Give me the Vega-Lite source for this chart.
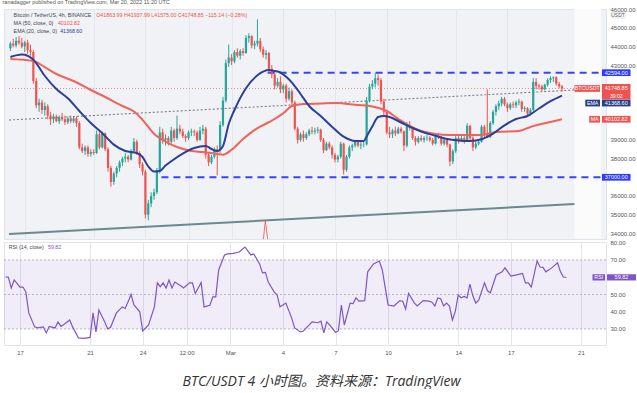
{
"$schema": "https://vega.github.io/schema/vega-lite/v6.json",
"background": "#ffffff",
"padding": {"left": 2, "top": 0, "right": 0, "bottom": 0},
"title": {"text": "ranadagger published on TradingView.com, Mar 20, 2022 11:20 UTC", "anchor": "start", "fontSize": 5.5, "fontWeight": "normal", "color": "#555555", "font": "Liberation Sans", "offset": 0},
"config": {"font": "Liberation Sans", "view": {"stroke": "#e0e3eb", "strokeWidth": 1}, "axis": {"labelFont": "Liberation Sans", "labelOverlap": false}, "axisY": {"labelOverlap": false}},
"spacing": -3,
"datasets": {
"candles": [
{"t":"2022-02-16T04:00Z","o":43900,"h":44250,"l":43750,"c":44150},
{"t":"2022-02-16T08:00Z","o":44150,"h":44400,"l":43950,"c":44050},
{"t":"2022-02-16T12:00Z","o":44050,"h":44500,"l":43950,"c":44300},
{"t":"2022-02-16T16:00Z","o":44300,"h":44550,"l":44100,"c":44200},
{"t":"2022-02-16T20:00Z","o":44200,"h":44450,"l":43900,"c":44000},
{"t":"2022-02-17T00:00Z","o":44000,"h":44300,"l":43700,"c":44200},
{"t":"2022-02-17T04:00Z","o":44200,"h":44350,"l":43600,"c":43800},
{"t":"2022-02-17T08:00Z","o":43800,"h":44100,"l":43500,"c":43700},
{"t":"2022-02-17T12:00Z","o":43700,"h":43800,"l":42000,"c":42150},
{"t":"2022-02-17T16:00Z","o":42150,"h":42300,"l":40700,"c":40850},
{"t":"2022-02-17T20:00Z","o":40850,"h":41200,"l":40500,"c":41000},
{"t":"2022-02-18T00:00Z","o":41000,"h":41150,"l":40400,"c":40600},
{"t":"2022-02-18T04:00Z","o":40600,"h":41000,"l":40300,"c":40800},
{"t":"2022-02-18T08:00Z","o":40800,"h":40900,"l":40100,"c":40300},
{"t":"2022-02-18T12:00Z","o":40300,"h":40500,"l":39800,"c":40100},
{"t":"2022-02-18T16:00Z","o":40100,"h":40400,"l":39900,"c":40250},
{"t":"2022-02-18T20:00Z","o":40250,"h":40350,"l":39950,"c":40000},
{"t":"2022-02-19T00:00Z","o":40000,"h":40300,"l":39850,"c":40200},
{"t":"2022-02-19T04:00Z","o":40200,"h":40450,"l":40000,"c":40100},
{"t":"2022-02-19T08:00Z","o":40100,"h":40300,"l":39800,"c":39950},
{"t":"2022-02-19T12:00Z","o":39950,"h":40250,"l":39850,"c":40150},
{"t":"2022-02-19T16:00Z","o":40150,"h":40300,"l":39900,"c":40000},
{"t":"2022-02-19T20:00Z","o":40000,"h":40250,"l":39900,"c":40150},
{"t":"2022-02-20T00:00Z","o":40150,"h":40250,"l":39700,"c":39900},
{"t":"2022-02-20T04:00Z","o":39900,"h":40000,"l":38500,"c":38600},
{"t":"2022-02-20T08:00Z","o":38600,"h":38800,"l":38300,"c":38400},
{"t":"2022-02-20T12:00Z","o":38400,"h":38700,"l":38200,"c":38600},
{"t":"2022-02-20T16:00Z","o":38600,"h":38700,"l":38100,"c":38250},
{"t":"2022-02-20T20:00Z","o":38250,"h":38500,"l":38100,"c":38350},
{"t":"2022-02-21T00:00Z","o":38350,"h":38500,"l":38200,"c":38300},
{"t":"2022-02-21T04:00Z","o":38300,"h":39500,"l":38250,"c":39300},
{"t":"2022-02-21T08:00Z","o":39300,"h":39400,"l":38500,"c":38600},
{"t":"2022-02-21T12:00Z","o":38600,"h":39450,"l":38550,"c":39350},
{"t":"2022-02-21T16:00Z","o":39350,"h":39400,"l":38400,"c":38500},
{"t":"2022-02-21T20:00Z","o":38500,"h":38600,"l":37300,"c":37500},
{"t":"2022-02-22T00:00Z","o":37500,"h":37600,"l":36500,"c":36750},
{"t":"2022-02-22T04:00Z","o":36750,"h":37300,"l":36600,"c":37200},
{"t":"2022-02-22T08:00Z","o":37200,"h":37600,"l":37000,"c":37500},
{"t":"2022-02-22T12:00Z","o":37500,"h":37900,"l":37300,"c":37800},
{"t":"2022-02-22T16:00Z","o":37800,"h":38100,"l":37600,"c":38000},
{"t":"2022-02-22T20:00Z","o":38000,"h":38300,"l":37800,"c":38100},
{"t":"2022-02-23T00:00Z","o":38100,"h":38200,"l":37800,"c":37950},
{"t":"2022-02-23T04:00Z","o":37950,"h":38500,"l":37900,"c":38400},
{"t":"2022-02-23T08:00Z","o":38400,"h":39100,"l":38300,"c":38900},
{"t":"2022-02-23T12:00Z","o":38900,"h":39000,"l":38200,"c":38300},
{"t":"2022-02-23T16:00Z","o":38300,"h":38400,"l":37500,"c":37700},
{"t":"2022-02-23T20:00Z","o":37700,"h":37800,"l":37100,"c":37300},
{"t":"2022-02-24T00:00Z","o":37300,"h":37400,"l":34800,"c":35000},
{"t":"2022-02-24T04:00Z","o":35000,"h":35800,"l":34700,"c":35600},
{"t":"2022-02-24T08:00Z","o":35600,"h":36200,"l":35400,"c":36000},
{"t":"2022-02-24T12:00Z","o":36000,"h":36400,"l":35800,"c":36200},
{"t":"2022-02-24T16:00Z","o":36200,"h":37500,"l":36100,"c":37300},
{"t":"2022-02-24T20:00Z","o":37300,"h":39700,"l":37200,"c":39400},
{"t":"2022-02-25T00:00Z","o":39400,"h":39600,"l":38800,"c":39000},
{"t":"2022-02-25T04:00Z","o":39000,"h":39300,"l":38700,"c":39100},
{"t":"2022-02-25T08:00Z","o":39100,"h":39200,"l":38700,"c":38900},
{"t":"2022-02-25T12:00Z","o":38900,"h":39700,"l":38800,"c":39500},
{"t":"2022-02-25T16:00Z","o":39500,"h":39600,"l":38900,"c":39100},
{"t":"2022-02-25T20:00Z","o":39100,"h":40300,"l":39000,"c":39600},
{"t":"2022-02-26T00:00Z","o":39600,"h":39800,"l":39300,"c":39450},
{"t":"2022-02-26T04:00Z","o":39450,"h":39600,"l":39100,"c":39200},
{"t":"2022-02-26T08:00Z","o":39200,"h":39300,"l":38900,"c":39100},
{"t":"2022-02-26T12:00Z","o":39100,"h":39500,"l":39000,"c":39400},
{"t":"2022-02-26T16:00Z","o":39400,"h":39600,"l":39200,"c":39450},
{"t":"2022-02-26T20:00Z","o":39450,"h":39550,"l":39200,"c":39400},
{"t":"2022-02-27T00:00Z","o":39400,"h":39500,"l":38900,"c":39000},
{"t":"2022-02-27T04:00Z","o":39000,"h":39700,"l":38950,"c":39500},
{"t":"2022-02-27T08:00Z","o":39500,"h":39800,"l":39300,"c":39600},
{"t":"2022-02-27T12:00Z","o":39600,"h":39700,"l":38000,"c":38200},
{"t":"2022-02-27T16:00Z","o":38200,"h":38300,"l":37600,"c":37800},
{"t":"2022-02-27T20:00Z","o":37800,"h":38200,"l":37700,"c":38100},
{"t":"2022-02-28T00:00Z","o":38100,"h":38600,"l":38000,"c":38500},
{"t":"2022-02-28T04:00Z","o":38500,"h":38700,"l":37100,"c":38450},
{"t":"2022-02-28T08:00Z","o":38450,"h":40000,"l":38300,"c":39800},
{"t":"2022-02-28T12:00Z","o":39800,"h":41300,"l":39700,"c":41100},
{"t":"2022-02-28T16:00Z","o":41100,"h":43300,"l":41000,"c":43100},
{"t":"2022-02-28T20:00Z","o":43100,"h":44100,"l":42900,"c":43400},
{"t":"2022-03-01T00:00Z","o":43400,"h":43600,"l":43000,"c":43200},
{"t":"2022-03-01T04:00Z","o":43200,"h":43800,"l":43100,"c":43700},
{"t":"2022-03-01T08:00Z","o":43700,"h":43900,"l":43400,"c":43500},
{"t":"2022-03-01T12:00Z","o":43500,"h":43850,"l":43300,"c":43750},
{"t":"2022-03-01T16:00Z","o":43750,"h":43900,"l":43500,"c":43650},
{"t":"2022-03-01T20:00Z","o":43650,"h":44600,"l":43600,"c":44450},
{"t":"2022-03-02T00:00Z","o":44450,"h":44700,"l":44200,"c":44550},
{"t":"2022-03-02T04:00Z","o":44550,"h":44600,"l":43900,"c":44050},
{"t":"2022-03-02T08:00Z","o":44050,"h":44300,"l":43850,"c":44150},
{"t":"2022-03-02T12:00Z","o":44150,"h":45450,"l":44000,"c":44300},
{"t":"2022-03-02T16:00Z","o":44300,"h":44450,"l":43700,"c":43850},
{"t":"2022-03-02T20:00Z","o":43850,"h":44000,"l":43400,"c":43550},
{"t":"2022-03-03T00:00Z","o":43550,"h":43800,"l":43300,"c":43650},
{"t":"2022-03-03T04:00Z","o":43650,"h":43700,"l":42600,"c":42800},
{"t":"2022-03-03T08:00Z","o":42800,"h":43000,"l":42300,"c":42500},
{"t":"2022-03-03T12:00Z","o":42500,"h":42600,"l":41700,"c":41900},
{"t":"2022-03-03T16:00Z","o":41900,"h":42300,"l":41800,"c":42100},
{"t":"2022-03-03T20:00Z","o":42100,"h":42400,"l":41500,"c":41700},
{"t":"2022-03-04T00:00Z","o":41700,"h":42000,"l":41500,"c":41900},
{"t":"2022-03-04T04:00Z","o":41900,"h":42000,"l":41000,"c":41200},
{"t":"2022-03-04T08:00Z","o":41200,"h":41800,"l":41100,"c":41600},
{"t":"2022-03-04T12:00Z","o":41600,"h":41700,"l":40800,"c":41000},
{"t":"2022-03-04T16:00Z","o":41000,"h":41100,"l":39500,"c":39600},
{"t":"2022-03-04T20:00Z","o":39600,"h":39700,"l":38800,"c":39000},
{"t":"2022-03-05T00:00Z","o":39000,"h":39400,"l":38900,"c":39300},
{"t":"2022-03-05T04:00Z","o":39300,"h":39500,"l":38900,"c":39100},
{"t":"2022-03-05T08:00Z","o":39100,"h":39400,"l":39000,"c":39300},
{"t":"2022-03-05T12:00Z","o":39300,"h":39600,"l":39200,"c":39500},
{"t":"2022-03-05T16:00Z","o":39500,"h":39700,"l":39300,"c":39450},
{"t":"2022-03-05T20:00Z","o":39450,"h":39650,"l":39300,"c":39500},
{"t":"2022-03-06T00:00Z","o":39500,"h":39700,"l":39350,"c":39550},
{"t":"2022-03-06T04:00Z","o":39550,"h":39600,"l":38900,"c":39000},
{"t":"2022-03-06T08:00Z","o":39000,"h":39100,"l":38300,"c":38450},
{"t":"2022-03-06T12:00Z","o":38450,"h":38900,"l":38400,"c":38800},
{"t":"2022-03-06T16:00Z","o":38800,"h":38900,"l":38500,"c":38600},
{"t":"2022-03-06T20:00Z","o":38600,"h":38700,"l":38000,"c":38200},
{"t":"2022-03-07T00:00Z","o":38200,"h":38300,"l":37800,"c":37950},
{"t":"2022-03-07T04:00Z","o":37950,"h":38200,"l":37800,"c":38100},
{"t":"2022-03-07T08:00Z","o":38100,"h":38900,"l":38000,"c":38800},
{"t":"2022-03-07T12:00Z","o":38800,"h":38850,"l":37150,"c":37400},
{"t":"2022-03-07T16:00Z","o":37400,"h":38200,"l":37300,"c":38100},
{"t":"2022-03-07T20:00Z","o":38100,"h":38700,"l":38000,"c":38600},
{"t":"2022-03-08T00:00Z","o":38600,"h":38800,"l":38400,"c":38700},
{"t":"2022-03-08T04:00Z","o":38700,"h":39000,"l":38600,"c":38900},
{"t":"2022-03-08T08:00Z","o":38900,"h":39000,"l":38600,"c":38700},
{"t":"2022-03-08T12:00Z","o":38700,"h":38900,"l":38500,"c":38750},
{"t":"2022-03-08T16:00Z","o":38750,"h":38900,"l":38600,"c":38760},
{"t":"2022-03-08T20:00Z","o":38760,"h":41300,"l":38700,"c":41100},
{"t":"2022-03-09T00:00Z","o":41100,"h":42000,"l":41000,"c":41850},
{"t":"2022-03-09T04:00Z","o":41850,"h":42200,"l":41700,"c":42000},
{"t":"2022-03-09T08:00Z","o":42000,"h":42594,"l":41800,"c":42300},
{"t":"2022-03-09T12:00Z","o":42300,"h":42500,"l":41900,"c":42200},
{"t":"2022-03-09T16:00Z","o":42200,"h":42300,"l":40900,"c":41050},
{"t":"2022-03-09T20:00Z","o":41050,"h":41200,"l":40300,"c":40500},
{"t":"2022-03-10T00:00Z","o":40500,"h":40600,"l":39300,"c":39400},
{"t":"2022-03-10T04:00Z","o":39400,"h":39700,"l":39100,"c":39300},
{"t":"2022-03-10T08:00Z","o":39300,"h":39600,"l":39100,"c":39500},
{"t":"2022-03-10T12:00Z","o":39500,"h":39700,"l":39200,"c":39350},
{"t":"2022-03-10T16:00Z","o":39350,"h":39700,"l":39300,"c":39600},
{"t":"2022-03-10T20:00Z","o":39600,"h":39700,"l":39350,"c":39450},
{"t":"2022-03-11T00:00Z","o":39450,"h":39500,"l":38400,"c":38700},
{"t":"2022-03-11T04:00Z","o":38700,"h":39950,"l":38600,"c":39800},
{"t":"2022-03-11T08:00Z","o":39800,"h":40000,"l":39500,"c":39650},
{"t":"2022-03-11T12:00Z","o":39650,"h":39700,"l":39000,"c":39100},
{"t":"2022-03-11T16:00Z","o":39100,"h":39200,"l":38700,"c":38900},
{"t":"2022-03-11T20:00Z","o":38900,"h":39200,"l":38800,"c":39100},
{"t":"2022-03-12T00:00Z","o":39100,"h":39250,"l":38900,"c":39000},
{"t":"2022-03-12T04:00Z","o":39000,"h":39200,"l":38850,"c":39100},
{"t":"2022-03-12T08:00Z","o":39100,"h":39250,"l":38950,"c":39120},
{"t":"2022-03-12T12:00Z","o":39120,"h":39200,"l":38900,"c":39000},
{"t":"2022-03-12T16:00Z","o":39000,"h":39100,"l":38700,"c":38800},
{"t":"2022-03-12T20:00Z","o":38800,"h":39300,"l":38750,"c":39200},
{"t":"2022-03-13T00:00Z","o":39200,"h":39350,"l":39050,"c":39150},
{"t":"2022-03-13T04:00Z","o":39150,"h":39200,"l":38700,"c":38800},
{"t":"2022-03-13T08:00Z","o":38800,"h":39100,"l":38700,"c":39000},
{"t":"2022-03-13T12:00Z","o":39000,"h":39050,"l":38600,"c":38750},
{"t":"2022-03-13T16:00Z","o":38750,"h":38800,"l":37600,"c":37850},
{"t":"2022-03-13T20:00Z","o":37850,"h":38500,"l":37700,"c":38400},
{"t":"2022-03-14T00:00Z","o":38400,"h":39200,"l":38300,"c":39100},
{"t":"2022-03-14T04:00Z","o":39100,"h":39200,"l":38800,"c":38950},
{"t":"2022-03-14T08:00Z","o":38950,"h":39200,"l":38900,"c":39100},
{"t":"2022-03-14T12:00Z","o":39100,"h":39200,"l":38800,"c":38950},
{"t":"2022-03-14T16:00Z","o":38950,"h":39900,"l":38900,"c":39750},
{"t":"2022-03-14T20:00Z","o":39750,"h":39800,"l":39000,"c":39100},
{"t":"2022-03-15T00:00Z","o":39100,"h":39200,"l":38400,"c":38600},
{"t":"2022-03-15T04:00Z","o":38600,"h":39000,"l":38500,"c":38800},
{"t":"2022-03-15T08:00Z","o":38800,"h":39000,"l":38700,"c":38900},
{"t":"2022-03-15T12:00Z","o":38900,"h":39800,"l":38850,"c":39700},
{"t":"2022-03-15T16:00Z","o":39700,"h":39800,"l":39100,"c":39300},
{"t":"2022-03-15T20:00Z","o":39300,"h":41700,"l":39100,"c":39150},
{"t":"2022-03-16T00:00Z","o":39150,"h":40000,"l":39100,"c":39900},
{"t":"2022-03-16T04:00Z","o":39900,"h":40600,"l":39800,"c":40500},
{"t":"2022-03-16T08:00Z","o":40500,"h":40900,"l":40300,"c":40800},
{"t":"2022-03-16T12:00Z","o":40800,"h":41100,"l":40600,"c":40950},
{"t":"2022-03-16T16:00Z","o":40950,"h":41300,"l":40800,"c":41200},
{"t":"2022-03-16T20:00Z","o":41200,"h":41300,"l":40800,"c":40900},
{"t":"2022-03-17T00:00Z","o":40900,"h":41000,"l":40500,"c":40700},
{"t":"2022-03-17T04:00Z","o":40700,"h":41000,"l":40600,"c":40900},
{"t":"2022-03-17T08:00Z","o":40900,"h":41050,"l":40700,"c":40850},
{"t":"2022-03-17T12:00Z","o":40850,"h":41100,"l":40700,"c":41000},
{"t":"2022-03-17T16:00Z","o":41000,"h":41200,"l":40850,"c":41050},
{"t":"2022-03-17T20:00Z","o":41050,"h":41100,"l":40500,"c":40650},
{"t":"2022-03-18T00:00Z","o":40650,"h":40800,"l":40500,"c":40700},
{"t":"2022-03-18T04:00Z","o":40700,"h":40750,"l":40300,"c":40400},
{"t":"2022-03-18T08:00Z","o":40400,"h":40700,"l":40300,"c":40600},
{"t":"2022-03-18T12:00Z","o":40600,"h":42300,"l":40550,"c":42100},
{"t":"2022-03-18T16:00Z","o":42100,"h":42300,"l":41700,"c":41900},
{"t":"2022-03-18T20:00Z","o":41900,"h":42000,"l":41700,"c":41850},
{"t":"2022-03-19T00:00Z","o":41850,"h":41950,"l":41600,"c":41700},
{"t":"2022-03-19T04:00Z","o":41700,"h":42000,"l":41650,"c":41950},
{"t":"2022-03-19T08:00Z","o":41950,"h":42300,"l":41850,"c":42200},
{"t":"2022-03-19T12:00Z","o":42200,"h":42400,"l":42050,"c":42300},
{"t":"2022-03-19T16:00Z","o":42300,"h":42400,"l":42100,"c":42350},
{"t":"2022-03-19T20:00Z","o":42350,"h":42400,"l":41900,"c":42000},
{"t":"2022-03-20T00:00Z","o":42000,"h":42100,"l":41750,"c":41864},
{"t":"2022-03-20T04:00Z","o":41864,"h":41938,"l":41575,"c":41748.85}
],
"ema": [
{"t":"2022-02-16T04:00Z","v":43433},{"t":"2022-02-16T20:00Z","v":43566},{"t":"2022-02-17T12:00Z","v":43290},{"t":"2022-02-18T04:00Z","v":42417},{"t":"2022-02-18T20:00Z","v":41722},{"t":"2022-02-19T12:00Z","v":41224},{"t":"2022-02-20T04:00Z","v":40545},{"t":"2022-02-20T20:00Z","v":39903},{"t":"2022-02-21T12:00Z","v":39358},{"t":"2022-02-22T04:00Z","v":38748},{"t":"2022-02-22T20:00Z","v":38406},{"t":"2022-02-23T12:00Z","v":38299},{"t":"2022-02-23T20:00Z","v":38085},{"t":"2022-02-24T04:00Z","v":37577},{"t":"2022-02-24T12:00Z","v":37310},{"t":"2022-02-24T20:00Z","v":37336},{"t":"2022-02-25T04:00Z","v":37625},{"t":"2022-02-25T12:00Z","v":37860},{"t":"2022-02-26T04:00Z","v":38267},{"t":"2022-02-26T20:00Z","v":38567},{"t":"2022-02-27T12:00Z","v":38673},{"t":"2022-02-27T20:00Z","v":38513},{"t":"2022-02-28T04:00Z","v":38406},{"t":"2022-02-28T12:00Z","v":38673},{"t":"2022-02-28T20:00Z","v":39850},{"t":"2022-03-01T04:00Z","v":40599},{"t":"2022-03-01T20:00Z","v":41759},{"t":"2022-03-02T12:00Z","v":42454},{"t":"2022-03-03T04:00Z","v":42738},{"t":"2022-03-03T12:00Z","v":42684},{"t":"2022-03-03T20:00Z","v":42604},{"t":"2022-03-04T04:00Z","v":42374},{"t":"2022-03-04T12:00Z","v":42064},{"t":"2022-03-04T20:00Z","v":41668},{"t":"2022-03-05T04:00Z","v":41230},{"t":"2022-03-05T12:00Z","v":40813},{"t":"2022-03-06T04:00Z","v":40278},{"t":"2022-03-06T20:00Z","v":39695},{"t":"2022-03-07T12:00Z","v":39171},{"t":"2022-03-08T04:00Z","v":38941},{"t":"2022-03-08T16:00Z","v":38941},{"t":"2022-03-08T20:00Z","v":39187},{"t":"2022-03-09T04:00Z","v":39727},{"t":"2022-03-09T12:00Z","v":40224},{"t":"2022-03-09T20:00Z","v":40278},{"t":"2022-03-10T04:00Z","v":40224},{"t":"2022-03-10T20:00Z","v":39930},{"t":"2022-03-11T12:00Z","v":39636},{"t":"2022-03-12T04:00Z","v":39395},{"t":"2022-03-12T20:00Z","v":39224},{"t":"2022-03-13T12:00Z","v":39048},{"t":"2022-03-14T04:00Z","v":38968},{"t":"2022-03-14T20:00Z","v":38941},{"t":"2022-03-15T12:00Z","v":39032},{"t":"2022-03-16T04:00Z","v":39331},{"t":"2022-03-16T20:00Z","v":39781},{"t":"2022-03-17T12:00Z","v":40117},{"t":"2022-03-18T04:00Z","v":40278},{"t":"2022-03-18T20:00Z","v":40679},{"t":"2022-03-19T12:00Z","v":41069},{"t":"2022-03-20T04:00Z","v":41368.6}
],
"ma": [
{"t":"2022-02-16T04:00Z","v":43326},{"t":"2022-02-17T12:00Z","v":43219},{"t":"2022-02-18T04:00Z","v":42887},{"t":"2022-02-18T20:00Z","v":42524},{"t":"2022-02-19T20:00Z","v":42149},{"t":"2022-02-20T20:00Z","v":41668},{"t":"2022-02-21T16:00Z","v":41294},{"t":"2022-02-22T16:00Z","v":40813},{"t":"2022-02-23T08:00Z","v":40519},{"t":"2022-02-23T20:00Z","v":40074},{"t":"2022-02-24T12:00Z","v":39331},{"t":"2022-02-25T04:00Z","v":38909},{"t":"2022-02-25T20:00Z","v":38620},{"t":"2022-02-26T16:00Z","v":38406},{"t":"2022-02-27T08:00Z","v":38352},{"t":"2022-02-28T04:00Z","v":38245},{"t":"2022-02-28T12:00Z","v":38208},{"t":"2022-03-01T00:00Z","v":38475},{"t":"2022-03-01T16:00Z","v":39048},{"t":"2022-03-02T12:00Z","v":39630},{"t":"2022-03-03T04:00Z","v":39946},{"t":"2022-03-04T00:00Z","v":40428},{"t":"2022-03-04T12:00Z","v":40813},{"t":"2022-03-05T04:00Z","v":40919},{"t":"2022-03-06T04:00Z","v":40946},{"t":"2022-03-07T00:00Z","v":40973},{"t":"2022-03-08T08:00Z","v":40866},{"t":"2022-03-09T00:00Z","v":40813},{"t":"2022-03-10T00:00Z","v":40545},{"t":"2022-03-10T16:00Z","v":40128},{"t":"2022-03-11T08:00Z","v":39743},{"t":"2022-03-12T00:00Z","v":39476},{"t":"2022-03-12T20:00Z","v":39315},{"t":"2022-03-13T16:00Z","v":39262},{"t":"2022-03-15T12:00Z","v":39262},{"t":"2022-03-16T08:00Z","v":39422},{"t":"2022-03-17T16:00Z","v":39475},{"t":"2022-03-18T08:00Z","v":39689},{"t":"2022-03-19T12:00Z","v":39957},{"t":"2022-03-20T04:00Z","v":40102.82}
],
"rsi": [
{"t":"2022-02-16T04:00Z","v":60.1},{"t":"2022-02-16T08:00Z","v":60},{"t":"2022-02-16T12:00Z","v":53.7},{"t":"2022-02-16T16:00Z","v":58.4},{"t":"2022-02-17T00:00Z","v":54.3},{"t":"2022-02-17T04:00Z","v":54.3},{"t":"2022-02-17T08:00Z","v":51.5},{"t":"2022-02-17T12:00Z","v":39.3},{"t":"2022-02-17T20:00Z","v":31.2},{"t":"2022-02-18T00:00Z","v":30.6},{"t":"2022-02-18T08:00Z","v":31.2},{"t":"2022-02-18T12:00Z","v":27.7},{"t":"2022-02-18T16:00Z","v":31.5},{"t":"2022-02-19T00:00Z","v":30.6},{"t":"2022-02-19T04:00Z","v":34.1},{"t":"2022-02-19T08:00Z","v":31.5},{"t":"2022-02-19T12:00Z","v":32.6},{"t":"2022-02-19T20:00Z","v":35.2},{"t":"2022-02-20T00:00Z","v":31.2},{"t":"2022-02-20T04:00Z","v":28},{"t":"2022-02-20T08:00Z","v":24.8},{"t":"2022-02-20T16:00Z","v":24.5},{"t":"2022-02-21T00:00Z","v":25.1},{"t":"2022-02-21T04:00Z","v":39.3},{"t":"2022-02-21T08:00Z","v":28.3},{"t":"2022-02-21T12:00Z","v":41},{"t":"2022-02-21T20:00Z","v":34.1},{"t":"2022-02-22T00:00Z","v":30},{"t":"2022-02-22T04:00Z","v":31},{"t":"2022-02-22T12:00Z","v":39.3},{"t":"2022-02-22T20:00Z","v":42.8},{"t":"2022-02-23T00:00Z","v":41.9},{"t":"2022-02-23T04:00Z","v":45.7},{"t":"2022-02-23T08:00Z","v":50},{"t":"2022-02-23T12:00Z","v":43.9},{"t":"2022-02-23T20:00Z","v":39.9},{"t":"2022-02-24T00:00Z","v":28.8},{"t":"2022-02-24T08:00Z","v":32.3},{"t":"2022-02-24T16:00Z","v":42.8},{"t":"2022-02-24T20:00Z","v":56.7},{"t":"2022-02-25T00:00Z","v":54.5},{"t":"2022-02-25T04:00Z","v":56.7},{"t":"2022-02-25T08:00Z","v":53.7},{"t":"2022-02-25T12:00Z","v":58.4},{"t":"2022-02-25T16:00Z","v":53.7},{"t":"2022-02-25T20:00Z","v":57.2},{"t":"2022-02-26T04:00Z","v":55},{"t":"2022-02-26T08:00Z","v":53.7},{"t":"2022-02-26T16:00Z","v":56.7},{"t":"2022-02-26T20:00Z","v":56.7},{"t":"2022-02-27T00:00Z","v":50.6},{"t":"2022-02-27T08:00Z","v":56.9},{"t":"2022-02-27T12:00Z","v":42.8},{"t":"2022-02-27T20:00Z","v":43.7},{"t":"2022-02-28T00:00Z","v":48.6},{"t":"2022-02-28T04:00Z","v":48.6},{"t":"2022-02-28T08:00Z","v":64.2},{"t":"2022-02-28T16:00Z","v":72.9},{"t":"2022-02-28T20:00Z","v":73.5},{"t":"2022-03-01T04:00Z","v":73.8},{"t":"2022-03-01T12:00Z","v":74.6},{"t":"2022-03-01T20:00Z","v":77.5},{"t":"2022-03-02T04:00Z","v":72.9},{"t":"2022-03-02T08:00Z","v":73.5},{"t":"2022-03-02T16:00Z","v":67.7},{"t":"2022-03-02T20:00Z","v":62.5},{"t":"2022-03-03T00:00Z","v":62.8},{"t":"2022-03-03T04:00Z","v":57},{"t":"2022-03-03T12:00Z","v":51.5},{"t":"2022-03-03T16:00Z","v":49.7},{"t":"2022-03-03T20:00Z","v":42.8},{"t":"2022-03-04T04:00Z","v":45},{"t":"2022-03-04T12:00Z","v":36.3},{"t":"2022-03-04T16:00Z","v":30.6},{"t":"2022-03-05T00:00Z","v":28.3},{"t":"2022-03-05T04:00Z","v":28.8},{"t":"2022-03-05T08:00Z","v":30.6},{"t":"2022-03-05T16:00Z","v":34.1},{"t":"2022-03-06T00:00Z","v":33.6},{"t":"2022-03-06T04:00Z","v":34.5},{"t":"2022-03-06T08:00Z","v":27.7},{"t":"2022-03-06T12:00Z","v":34.1},{"t":"2022-03-06T16:00Z","v":32.3},{"t":"2022-03-07T00:00Z","v":28},{"t":"2022-03-07T04:00Z","v":29},{"t":"2022-03-07T08:00Z","v":43.9},{"t":"2022-03-07T12:00Z","v":32.3},{"t":"2022-03-07T20:00Z","v":45},{"t":"2022-03-08T00:00Z","v":44.7},{"t":"2022-03-08T04:00Z","v":48},{"t":"2022-03-08T08:00Z","v":46.1},{"t":"2022-03-08T16:00Z","v":46.4},{"t":"2022-03-08T20:00Z","v":63.1},{"t":"2022-03-09T04:00Z","v":67.7},{"t":"2022-03-09T12:00Z","v":69.4},{"t":"2022-03-09T16:00Z","v":64.2},{"t":"2022-03-10T00:00Z","v":43.9},{"t":"2022-03-10T08:00Z","v":43.3},{"t":"2022-03-10T16:00Z","v":46.4},{"t":"2022-03-10T20:00Z","v":46.1},{"t":"2022-03-11T00:00Z","v":41.6},{"t":"2022-03-11T04:00Z","v":50.6},{"t":"2022-03-11T12:00Z","v":45},{"t":"2022-03-11T16:00Z","v":43.3},{"t":"2022-03-12T00:00Z","v":46.4},{"t":"2022-03-12T08:00Z","v":46.1},{"t":"2022-03-12T12:00Z","v":45.5},{"t":"2022-03-12T16:00Z","v":43.3},{"t":"2022-03-12T20:00Z","v":48},{"t":"2022-03-13T00:00Z","v":47.5},{"t":"2022-03-13T04:00Z","v":43.3},{"t":"2022-03-13T08:00Z","v":45},{"t":"2022-03-13T12:00Z","v":43.3},{"t":"2022-03-13T16:00Z","v":35.2},{"t":"2022-03-13T20:00Z","v":40.2},{"t":"2022-03-14T00:00Z","v":49.7},{"t":"2022-03-14T04:00Z","v":48},{"t":"2022-03-14T08:00Z","v":48.8},{"t":"2022-03-14T12:00Z","v":48},{"t":"2022-03-14T16:00Z","v":56},{"t":"2022-03-14T20:00Z","v":49.2},{"t":"2022-03-15T00:00Z","v":45},{"t":"2022-03-15T04:00Z","v":46.7},{"t":"2022-03-15T12:00Z","v":56.7},{"t":"2022-03-15T16:00Z","v":52.1},{"t":"2022-03-15T20:00Z","v":51},{"t":"2022-03-16T04:00Z","v":61.3},{"t":"2022-03-16T12:00Z","v":63.1},{"t":"2022-03-16T16:00Z","v":65.4},{"t":"2022-03-17T00:00Z","v":60.7},{"t":"2022-03-17T08:00Z","v":61.3},{"t":"2022-03-17T16:00Z","v":62.2},{"t":"2022-03-17T20:00Z","v":56.7},{"t":"2022-03-18T00:00Z","v":56.7},{"t":"2022-03-18T04:00Z","v":54.3},{"t":"2022-03-18T12:00Z","v":69.4},{"t":"2022-03-18T16:00Z","v":65.9},{"t":"2022-03-18T20:00Z","v":65.7},{"t":"2022-03-19T00:00Z","v":63.1},{"t":"2022-03-19T08:00Z","v":65.4},{"t":"2022-03-19T16:00Z","v":68.3},{"t":"2022-03-19T20:00Z","v":63.1},{"t":"2022-03-20T00:00Z","v":60.1},{"t":"2022-03-20T04:00Z","v":59.82}
],
"trend": [{"t":"2022-02-16T02:05Z","p":40064},{"t":"2022-03-20T21:21Z","p":41668}],
"support": [{"t":"2022-02-16T02:05Z","p":33967},{"t":"2022-03-20T21:21Z","p":35571}],
"arrow": [{"t":"2022-03-02T20:17Z","p":33700},{"t":"2022-03-02T23:00Z","p":34680},{"t":"2022-03-03T02:10Z","p":33700}]
},
"vconcat": [
{
"width": 602, "height": 230,
"data": {"values": [{}]},
"view": {"fill": "#f0f2f5", "stroke": "#e0e3eb"},
"layer": [
{"mark": {"type": "rect", "color": "#fbfbfc"},
 "encoding": {
  "x": {"datum": {"year":2022,"month":3,"date":20,"hours":21,"minutes":21,"utc":true}, "type": "temporal",
        "scale": {"type": "utc", "domain": [{"year":2022,"month":2,"date":16,"hours":2,"minutes":5,"utc":true},{"year":2022,"month":3,"date":22,"hours":10,"minutes":19,"utc":true}], "nice": false},
        "axis": {"values": [{"year":2022,"month":2,"date":17,"utc":true},{"year":2022,"month":2,"date":21,"utc":true},{"year":2022,"month":2,"date":24,"utc":true},{"year":2022,"month":2,"date":26,"hours":12,"utc":true},{"year":2022,"month":3,"date":1,"utc":true},{"year":2022,"month":3,"date":4,"utc":true},{"year":2022,"month":3,"date":7,"utc":true},{"year":2022,"month":3,"date":10,"utc":true},{"year":2022,"month":3,"date":14,"utc":true},{"year":2022,"month":3,"date":17,"utc":true},{"year":2022,"month":3,"date":21,"utc":true}],
                 "tickCount": 100, "labels": false, "ticks": false, "domain": false, "grid": true, "gridColor": "#e3e6ea", "title": null, "minExtent": 0, "maxExtent": 0, "labelPadding": 0}},
  "x2": {"datum": {"year":2022,"month":3,"date":22,"hours":10,"minutes":19,"utc":true}},
  "y": {"datum": 33700, "type": "quantitative",
        "scale": {"domain": [33700, 46000], "nice": false, "zero": false},
        "axis": {"orient": "right", "values": [34000,35000,36000,38000,39000,43000,44000,45000,46000], "tickCount": 100, "format": ".2f", "labelFontSize": 6, "labelColor": "#555555", "ticks": false, "domain": false, "grid": false, "title": null, "labelPadding": 4, "labelOverlap": false}},
  "y2": {"datum": 46000}
 }},
{"data": {"name": "trend"}, "mark": {"type": "line", "color": "#7c7f88", "strokeWidth": 1.1, "strokeDash": [2, 2]},
 "encoding": {"x": {"field": "t", "type": "temporal"}, "y": {"field": "p", "type": "quantitative"}}},
{"data": {"name": "support"}, "mark": {"type": "line", "color": "#6a8a8e", "strokeWidth": 2},
 "encoding": {"x": {"field": "t", "type": "temporal"}, "y": {"field": "p", "type": "quantitative"}}},
{"mark": {"type": "rule", "color": "#3444ff", "strokeWidth": 2, "strokeDash": [7, 5]},
 "encoding": {"x": {"datum": {"year":2022,"month":3,"date":3,"hours":2,"minutes":11,"utc":true}, "type": "temporal"}, "x2": {"datum": {"year":2022,"month":3,"date":22,"hours":10,"minutes":19,"utc":true}}, "y": {"datum": 42594, "type": "quantitative"}}},
{"mark": {"type": "rule", "color": "#3444ff", "strokeWidth": 2, "strokeDash": [7, 5]},
 "encoding": {"x": {"datum": {"year":2022,"month":2,"date":24,"hours":22,"minutes":18,"utc":true}, "type": "temporal"}, "x2": {"datum": {"year":2022,"month":3,"date":22,"hours":10,"minutes":19,"utc":true}}, "y": {"datum": 37000, "type": "quantitative"}}},
{"mark": {"type": "rule", "color": "#ef5350", "strokeWidth": 0.8, "strokeDash": [1, 2], "opacity": 0.8},
 "encoding": {"x": {"datum": {"year":2022,"month":2,"date":16,"hours":2,"minutes":5,"utc":true}, "type": "temporal"}, "x2": {"datum": {"year":2022,"month":3,"date":20,"hours":21,"minutes":21,"utc":true}}, "y": {"datum": 41748.85, "type": "quantitative"}}},
{"data": {"name": "candles"}, "mark": {"type": "rule", "strokeWidth": 1},
 "encoding": {"x": {"field": "t", "type": "temporal"}, "y": {"field": "l", "type": "quantitative", "axis": {"orient": "right", "values": [34000,35000,36000,38000,39000,43000,44000,45000,46000], "tickCount": 100, "format": ".2f", "labelFontSize": 6, "labelColor": "#555555", "ticks": false, "domain": false, "grid": false, "title": null, "labelPadding": 4, "labelOverlap": false}}, "y2": {"field": "h"},
  "color": {"condition": {"test": "datum.c >= datum.o", "value": "#26a69a"}, "value": "#ef5350"}}},
{"data": {"name": "candles"}, "mark": {"type": "bar", "size": 2.2},
 "encoding": {"x": {"field": "t", "type": "temporal"}, "y": {"field": "o", "type": "quantitative"}, "y2": {"field": "c"},
  "color": {"condition": {"test": "datum.c >= datum.o", "value": "#26a69a"}, "value": "#ef5350"}}},
{"data": {"name": "ma"}, "mark": {"type": "line", "color": "#f2625a", "strokeWidth": 2, "interpolate": "monotone"},
 "encoding": {"x": {"field": "t", "type": "temporal"}, "y": {"field": "v", "type": "quantitative"}}},
{"data": {"name": "ema"}, "mark": {"type": "line", "color": "#2b4096", "strokeWidth": 2, "interpolate": "monotone"},
 "encoding": {"x": {"field": "t", "type": "temporal"}, "y": {"field": "v", "type": "quantitative"}}},
{"data": {"name": "arrow"}, "mark": {"type": "line", "color": "#ef5350", "strokeWidth": 0.8},
 "encoding": {"x": {"field": "t", "type": "temporal"}, "y": {"field": "p", "type": "quantitative"}}},
{"mark": {"type": "text", "text": "Bitcoin / TetherUS, 4h, BINANCE", "align": "left", "baseline": "middle", "fontSize": 5.3, "color": "#434651"},
 "encoding": {"x": {"datum": {"year":2022,"month":2,"date":16,"hours":8,"minutes":31,"utc":true}, "type": "temporal"}, "y": {"datum": 45695, "type": "quantitative"}}},
{"mark": {"type": "text", "text": "O41863.99  H41937.99  L41575.00  C41748.85  −115.14 (−0.28%)", "align": "left", "baseline": "middle", "fontSize": 5.3, "color": "#ef5350"},
 "encoding": {"x": {"datum": {"year":2022,"month":2,"date":21,"hours":3,"minutes":32,"utc":true}, "type": "temporal"}, "y": {"datum": 45695, "type": "quantitative"}}},
{"mark": {"type": "text", "text": "MA (50, close, 0)", "align": "left", "baseline": "middle", "fontSize": 5.3, "color": "#434651"},
 "encoding": {"x": {"datum": {"year":2022,"month":2,"date":16,"hours":8,"minutes":31,"utc":true}, "type": "temporal"}, "y": {"datum": 45251, "type": "quantitative"}}},
{"mark": {"type": "text", "text": "40102.82", "align": "left", "baseline": "middle", "fontSize": 5.3, "color": "#ef5350"},
 "encoding": {"x": {"datum": {"year":2022,"month":2,"date":18,"hours":22,"minutes":8,"utc":true}, "type": "temporal"}, "y": {"datum": 45251, "type": "quantitative"}}},
{"mark": {"type": "text", "text": "EMA (20, close, 0)", "align": "left", "baseline": "middle", "fontSize": 5.3, "color": "#434651"},
 "encoding": {"x": {"datum": {"year":2022,"month":2,"date":16,"hours":8,"minutes":31,"utc":true}, "type": "temporal"}, "y": {"datum": 44840, "type": "quantitative"}}},
{"mark": {"type": "text", "text": "41368.60", "align": "left", "baseline": "middle", "fontSize": 5.3, "color": "#2b4096"},
 "encoding": {"x": {"datum": {"year":2022,"month":2,"date":19,"hours":1,"minutes":17,"utc":true}, "type": "temporal"}, "y": {"datum": 44840, "type": "quantitative"}}},
{"mark": {"type": "rect", "fill": "#ffffff", "stroke": "#c8cbd2", "strokeWidth": 0.6, "cornerRadius": 1.5},
 "encoding": {"x": {"datum": {"year":2022,"month":3,"date":23,"hours":0,"minutes":1,"utc":true}, "type": "temporal"}, "x2": {"datum": {"year":2022,"month":3,"date":23,"hours":20,"minutes":8,"utc":true}}, "y": {"datum": 45520, "type": "quantitative"}, "y2": {"datum": 45825}}},
{"mark": {"type": "text", "text": "USDT", "align": "center", "baseline": "middle", "fontSize": 5, "color": "#555555"},
 "encoding": {"x": {"datum": {"year":2022,"month":3,"date":23,"hours":10,"minutes":4,"utc":true}, "type": "temporal"}, "y": {"datum": 45672, "type": "quantitative"}}},
{"mark": {"type": "rect", "color": "#2b3bff"},
 "encoding": {"x": {"datum": {"year":2022,"month":3,"date":22,"hours":11,"minutes":41,"utc":true}, "type": "temporal"}, "x2": {"datum": {"year":2022,"month":3,"date":24,"hours":3,"minutes":24,"utc":true}}, "y": {"datum": 42414, "type": "quantitative"}, "y2": {"datum": 42774}}},
{"mark": {"type": "text", "text": "42594.00", "align": "center", "baseline": "middle", "fontSize": 5.5, "color": "#ffffff"},
 "encoding": {"x": {"datum": {"year":2022,"month":3,"date":23,"hours":7,"minutes":32,"utc":true}, "type": "temporal"}, "y": {"datum": 42594, "type": "quantitative"}}},
{"mark": {"type": "rect", "color": "#2b3bff"},
 "encoding": {"x": {"datum": {"year":2022,"month":3,"date":22,"hours":11,"minutes":41,"utc":true}, "type": "temporal"}, "x2": {"datum": {"year":2022,"month":3,"date":24,"hours":3,"minutes":24,"utc":true}}, "y": {"datum": 36820, "type": "quantitative"}, "y2": {"datum": 37180}}},
{"mark": {"type": "text", "text": "37000.00", "align": "center", "baseline": "middle", "fontSize": 5.5, "color": "#ffffff"},
 "encoding": {"x": {"datum": {"year":2022,"month":3,"date":23,"hours":7,"minutes":32,"utc":true}, "type": "temporal"}, "y": {"datum": 37000, "type": "quantitative"}}},
{"mark": {"type": "rect", "color": "#ef5350"},
 "encoding": {"x": {"datum": {"year":2022,"month":3,"date":22,"hours":11,"minutes":41,"utc":true}, "type": "temporal"}, "x2": {"datum": {"year":2022,"month":3,"date":24,"hours":3,"minutes":24,"utc":true}}, "y": {"datum": 41160, "type": "quantitative"}, "y2": {"datum": 41989}}},
{"mark": {"type": "text", "text": "41748.85", "align": "center", "baseline": "middle", "fontSize": 5.5, "color": "#ffffff"},
 "encoding": {"x": {"datum": {"year":2022,"month":3,"date":23,"hours":7,"minutes":32,"utc":true}, "type": "temporal"}, "y": {"datum": 41748.85, "type": "quantitative"}}},
{"mark": {"type": "text", "text": "39:02", "align": "center", "baseline": "middle", "fontSize": 5, "color": "#ffffff"},
 "encoding": {"x": {"datum": {"year":2022,"month":3,"date":23,"hours":7,"minutes":32,"utc":true}, "type": "temporal"}, "y": {"datum": 41340, "type": "quantitative"}}},
{"mark": {"type": "rect", "color": "#ef5350"},
 "encoding": {"x": {"datum": {"year":2022,"month":3,"date":20,"hours":21,"minutes":21,"utc":true}, "type": "temporal"}, "x2": {"datum": {"year":2022,"month":3,"date":22,"hours":8,"minutes":57,"utc":true}}, "y": {"datum": 41568, "type": "quantitative"}, "y2": {"datum": 41929}}},
{"mark": {"type": "text", "text": "BTCUSDT", "align": "center", "baseline": "middle", "fontSize": 5.3, "color": "#ffffff"},
 "encoding": {"x": {"datum": {"year":2022,"month":3,"date":21,"hours":15,"minutes":9,"utc":true}, "type": "temporal"}, "y": {"datum": 41748.85, "type": "quantitative"}}},
{"mark": {"type": "rect", "color": "#27408b"},
 "encoding": {"x": {"datum": {"year":2022,"month":3,"date":22,"hours":11,"minutes":41,"utc":true}, "type": "temporal"}, "x2": {"datum": {"year":2022,"month":3,"date":24,"hours":3,"minutes":24,"utc":true}}, "y": {"datum": 40790, "type": "quantitative"}, "y2": {"datum": 41150}}},
{"mark": {"type": "text", "text": "41368.60", "align": "center", "baseline": "middle", "fontSize": 5.5, "color": "#ffffff"},
 "encoding": {"x": {"datum": {"year":2022,"month":3,"date":23,"hours":7,"minutes":32,"utc":true}, "type": "temporal"}, "y": {"datum": 40970, "type": "quantitative"}}},
{"mark": {"type": "rect", "color": "#27408b"},
 "encoding": {"x": {"datum": {"year":2022,"month":3,"date":21,"hours":12,"minutes":26,"utc":true}, "type": "temporal"}, "x2": {"datum": {"year":2022,"month":3,"date":22,"hours":8,"minutes":57,"utc":true}}, "y": {"datum": 40790, "type": "quantitative"}, "y2": {"datum": 41150}}},
{"mark": {"type": "text", "text": "EMA", "align": "center", "baseline": "middle", "fontSize": 5.3, "color": "#ffffff"},
 "encoding": {"x": {"datum": {"year":2022,"month":3,"date":21,"hours":22,"minutes":41,"utc":true}, "type": "temporal"}, "y": {"datum": 40970, "type": "quantitative"}}},
{"mark": {"type": "rect", "color": "#ef5350"},
 "encoding": {"x": {"datum": {"year":2022,"month":3,"date":22,"hours":11,"minutes":41,"utc":true}, "type": "temporal"}, "x2": {"datum": {"year":2022,"month":3,"date":24,"hours":3,"minutes":24,"utc":true}}, "y": {"datum": 39923, "type": "quantitative"}, "y2": {"datum": 40283}}},
{"mark": {"type": "text", "text": "40102.82", "align": "center", "baseline": "middle", "fontSize": 5.5, "color": "#ffffff"},
 "encoding": {"x": {"datum": {"year":2022,"month":3,"date":23,"hours":7,"minutes":32,"utc":true}, "type": "temporal"}, "y": {"datum": 40103, "type": "quantitative"}}},
{"mark": {"type": "rect", "color": "#ef5350"},
 "encoding": {"x": {"datum": {"year":2022,"month":3,"date":21,"hours":17,"minutes":53,"utc":true}, "type": "temporal"}, "x2": {"datum": {"year":2022,"month":3,"date":22,"hours":8,"minutes":57,"utc":true}}, "y": {"datum": 39923, "type": "quantitative"}, "y2": {"datum": 40283}}},
{"mark": {"type": "text", "text": "MA", "align": "center", "baseline": "middle", "fontSize": 5.3, "color": "#ffffff"},
 "encoding": {"x": {"datum": {"year":2022,"month":3,"date":22,"hours":1,"minutes":25,"utc":true}, "type": "temporal"}, "y": {"datum": 40103, "type": "quantitative"}}}
]
},
{
"width": 602, "height": 103,
"data": {"values": [{}]},
"view": {"fill": "#ffffff", "stroke": "#e0e3eb"},
"layer": [
{"mark": {"type": "rect", "color": "#7e57c2", "opacity": 0.11},
 "encoding": {
  "x": {"datum": {"year":2022,"month":2,"date":16,"hours":2,"minutes":5,"utc":true}, "type": "temporal",
        "scale": {"type": "utc", "domain": [{"year":2022,"month":2,"date":16,"hours":2,"minutes":5,"utc":true},{"year":2022,"month":3,"date":22,"hours":10,"minutes":19,"utc":true}], "nice": false},
        "axis": {"values": [{"year":2022,"month":2,"date":17,"utc":true},{"year":2022,"month":2,"date":21,"utc":true},{"year":2022,"month":2,"date":24,"utc":true},{"year":2022,"month":2,"date":26,"hours":12,"utc":true},{"year":2022,"month":3,"date":1,"utc":true},{"year":2022,"month":3,"date":4,"utc":true},{"year":2022,"month":3,"date":7,"utc":true},{"year":2022,"month":3,"date":10,"utc":true},{"year":2022,"month":3,"date":14,"utc":true},{"year":2022,"month":3,"date":17,"utc":true},{"year":2022,"month":3,"date":21,"utc":true}],
                 "tickCount": 100,
                 "labelExpr": "utchours(datum.value) == 12 ? '12:00' : (utcdate(datum.value) == 1 ? 'Mar' : '' + utcdate(datum.value))",
                 "labelFontSize": 6, "labelColor": "#555555", "labelPadding": 4.5, "labelFlush": false, "labelOverlap": false,
                 "ticks": false, "domain": true, "domainColor": "#e0e3eb", "grid": true, "gridColor": "#e3e6ea",
                 "title": "BTC/USDT 4 小时图。资料来源：TradingView", "titleFont": "Open Sans, Noto Sans CJK SC, sans-serif", "titleFontSize": 14, "titleFontStyle": "italic", "titleFontWeight": "normal", "titleColor": "#333333", "titlePadding": 19, "titleX": 317, "titleAlign": "center"}},
  "x2": {"datum": {"year":2022,"month":3,"date":22,"hours":10,"minutes":19,"utc":true}},
  "y": {"datum": 30, "type": "quantitative",
        "scale": {"domain": [20.7, 80.4], "nice": false, "zero": false},
        "axis": {"orient": "right", "values": [30,40,50,70,80], "tickCount": 100, "format": ".2f", "labelFontSize": 6, "labelColor": "#555555", "ticks": false, "domain": false, "grid": false, "title": null, "labelPadding": 4, "labelOverlap": false}},
  "y2": {"datum": 70}
 }},
{"mark": {"type": "rule", "color": "#a9a5b8", "strokeWidth": 0.8, "strokeDash": [2, 2]}, "encoding": {"y": {"datum": 70, "type": "quantitative"}}},
{"mark": {"type": "rule", "color": "#a9a5b8", "strokeWidth": 0.8, "strokeDash": [2, 2]}, "encoding": {"y": {"datum": 50, "type": "quantitative"}}},
{"mark": {"type": "rule", "color": "#a9a5b8", "strokeWidth": 0.8, "strokeDash": [2, 2]}, "encoding": {"y": {"datum": 30, "type": "quantitative"}}},
{"data": {"name": "rsi"}, "mark": {"type": "line", "color": "#7e57c2", "strokeWidth": 1.2},
 "encoding": {"x": {"field": "t", "type": "temporal"}, "y": {"field": "v", "type": "quantitative", "axis": {"orient": "right", "values": [30,40,50,70,80], "tickCount": 100, "format": ".2f", "labelFontSize": 6, "labelColor": "#555555", "ticks": false, "domain": false, "grid": false, "title": null, "labelPadding": 4, "labelOverlap": false}}}},
{"mark": {"type": "text", "text": "RSI (14, close)", "align": "left", "baseline": "middle", "fontSize": 5.3, "color": "#434651"},
 "encoding": {"x": {"datum": {"year":2022,"month":2,"date":16,"hours":8,"minutes":31,"utc":true}, "type": "temporal"}, "y": {"datum": 77.5, "type": "quantitative"}}},
{"mark": {"type": "text", "text": "59.82", "align": "left", "baseline": "middle", "fontSize": 5.3, "color": "#7e57c2"},
 "encoding": {"x": {"datum": {"year":2022,"month":2,"date":18,"hours":14,"minutes":20,"utc":true}, "type": "temporal"}, "y": {"datum": 77.5, "type": "quantitative"}}},
{"mark": {"type": "rect", "color": "#7e57c2"},
 "encoding": {"x": {"datum": {"year":2022,"month":3,"date":22,"hours":11,"minutes":41,"utc":true}, "type": "temporal"}, "x2": {"datum": {"year":2022,"month":3,"date":24,"hours":3,"minutes":24,"utc":true}}, "y": {"datum": 58.1, "type": "quantitative"}, "y2": {"datum": 61.7}}},
{"mark": {"type": "text", "text": "59.82", "align": "center", "baseline": "middle", "fontSize": 5.5, "color": "#ffffff"},
 "encoding": {"x": {"datum": {"year":2022,"month":3,"date":23,"hours":7,"minutes":32,"utc":true}, "type": "temporal"}, "y": {"datum": 59.9, "type": "quantitative"}}},
{"mark": {"type": "rect", "color": "#7e57c2"},
 "encoding": {"x": {"datum": {"year":2022,"month":3,"date":21,"hours":15,"minutes":50,"utc":true}, "type": "temporal"}, "x2": {"datum": {"year":2022,"month":3,"date":22,"hours":8,"minutes":57,"utc":true}}, "y": {"datum": 58.1, "type": "quantitative"}, "y2": {"datum": 61.7}}},
{"mark": {"type": "text", "text": "RSI", "align": "center", "baseline": "middle", "fontSize": 5.3, "color": "#ffffff"},
 "encoding": {"x": {"datum": {"year":2022,"month":3,"date":22,"hours":0,"minutes":27,"utc":true}, "type": "temporal"}, "y": {"datum": 59.9, "type": "quantitative"}}}
]
}
]
}
